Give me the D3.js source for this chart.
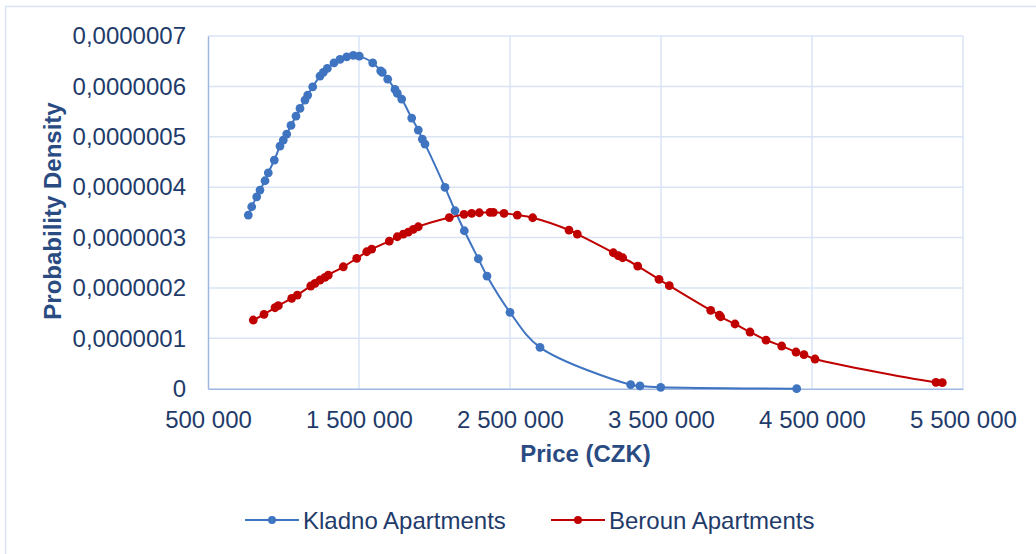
<!DOCTYPE html>
<html>
<head>
<meta charset="utf-8">
<script src="https://cdn.jsdelivr.net/npm/d3@7"></script>
<style>
  html, body { margin: 0; padding: 0; background: #ffffff; }
  svg { display: block; }
  text { font-family: "Liberation Sans", Arial, sans-serif; }
</style>
</head>
<body>
<svg id="chart" width="1036" height="554"></svg>
<script>
// ---- Data ----
const kladnoPrice = [767000, 789400, 822500, 844400, 877500, 899300, 939100, 976800, 998700, 1021200,
  1049700, 1082800, 1109300, 1142400, 1160300, 1193400, 1241700, 1263600, 1290100, 1334400,
  1374200, 1418500, 1462300, 1502000, 1590700, 1643700, 1654300, 1690100, 1738400, 1753600,
  1782800, 1849000, 1892700, 1919200, 1937100, 2069500, 2135800, 2197400, 2290100, 2347700,
  2500000, 2698700, 3299300, 3360900, 3498000, 4398700];
const kladnoDensity = [3.446e-7, 3.611e-7, 3.809e-7, 3.942e-7, 4.127e-7, 4.285e-7, 4.537e-7, 4.815e-7, 4.934e-7, 5.053e-7,
  5.226e-7, 5.410e-7, 5.563e-7, 5.728e-7, 5.827e-7, 5.992e-7, 6.204e-7, 6.277e-7, 6.357e-7, 6.468e-7,
  6.535e-7, 6.587e-7, 6.615e-7, 6.601e-7, 6.468e-7, 6.309e-7, 6.277e-7, 6.144e-7, 5.940e-7, 5.861e-7,
  5.748e-7, 5.371e-7, 5.133e-7, 4.954e-7, 4.855e-7, 3.996e-7, 3.532e-7, 3.135e-7, 2.579e-7, 2.236e-7,
  1.516e-7, 0.821e-7, 0.079e-7, 0.054e-7, 0.028e-7, 0.0001e-7];

const berounPrice = [800000, 870900, 943700, 965600, 1054300, 1091400, 1180100, 1208600, 1241700, 1274800,
  1296700, 1396000, 1484800, 1551000, 1584100, 1700700, 1753600, 1793400, 1826500, 1859600,
  1892700, 2098000, 2195400, 2246400, 2296700, 2367500, 2389400, 2460300, 2548300, 2650300,
  2890700, 2945700, 3184100, 3217200, 3246400, 3345700, 3486800, 3555000, 3829100, 3886100,
  3895400, 3990100, 4089400, 4195400, 4299300, 4394000, 4447000, 4519900, 5321200, 5362900];
const berounDensity = [1.363e-7, 1.476e-7, 1.607e-7, 1.647e-7, 1.794e-7, 1.859e-7, 2.038e-7, 2.091e-7, 2.157e-7, 2.210e-7,
  2.256e-7, 2.420e-7, 2.587e-7, 2.718e-7, 2.772e-7, 2.930e-7, 3.016e-7, 3.069e-7, 3.109e-7, 3.163e-7,
  3.214e-7, 3.397e-7, 3.460e-7, 3.480e-7, 3.492e-7, 3.500e-7, 3.500e-7, 3.480e-7, 3.446e-7, 3.393e-7,
  3.149e-7, 3.069e-7, 2.698e-7, 2.639e-7, 2.599e-7, 2.434e-7, 2.171e-7, 2.044e-7, 1.555e-7, 1.462e-7,
  1.428e-7, 1.284e-7, 1.125e-7, 0.966e-7, 0.847e-7, 0.728e-7, 0.675e-7, 0.589e-7, 0.127e-7, 0.119e-7];

const seriesNames = ["Kladno Apartments", "Beroun Apartments"];
const xTickValues = [500000, 1500000, 2500000, 3500000, 4500000, 5500000];
const yTickValues = [0, 1e-7, 2e-7, 3e-7, 4e-7, 5e-7, 6e-7, 7e-7];
const xTitle = "Price (CZK)";
const yTitle = "Probability Density";

// ---- Layout / style ----
const colors = ["#3F74C1", "#C00000"];
const textColor = "#1F3B6A";
const titleColor = "#2A4B82";
const gridColor = "#D9E4F4";
const axisColor = "#9DB7E0";
const fontSize = "24px";

const svg = d3.select("#chart");

// outer chart border
svg.append("rect")
  .attr("x", 5.5).attr("y", 6.5).attr("width", 1040).attr("height", 560)
  .attr("fill", "none").attr("stroke", gridColor).attr("stroke-width", 1.5);

const x = d3.scaleLinear().domain([500000, 5500000]).range([208, 963]);
const y = d3.scaleLinear().domain([0, 7e-7]).range([388.7, 36]);

// gridlines
const grid = svg.append("g");
grid.selectAll("line.h").data(yTickValues.slice(1)).join("line")
  .attr("x1", x.range()[0]).attr("x2", x.range()[1])
  .attr("y1", d => y(d)).attr("y2", d => y(d))
  .attr("stroke", gridColor).attr("stroke-width", 1.5);
grid.selectAll("line.v").data(xTickValues.slice(1)).join("line")
  .attr("y1", y.range()[0]).attr("y2", y.range()[1])
  .attr("x1", d => x(d)).attr("x2", d => x(d))
  .attr("stroke", gridColor).attr("stroke-width", 1.5);

// axes
const fmtX = d => d3.format(",")(d).replace(/,/g, " ");
const fmtY = d => d === 0 ? "0" : d3.format(".7f")(d).replace(".", ",");

const xAxis = svg.append("g")
  .attr("transform", `translate(0,${y.range()[0]})`)
  .call(d3.axisBottom(x).tickValues(xTickValues).tickFormat(fmtX).tickSize(0).tickPadding(22));
xAxis.select(".domain").attr("stroke", axisColor).attr("stroke-width", 1.5);
xAxis.selectAll("text").attr("fill", textColor).attr("font-size", fontSize);

const yAxis = svg.append("g")
  .attr("transform", `translate(${x.range()[0]},0)`)
  .call(d3.axisLeft(y).tickValues(yTickValues).tickFormat(fmtY).tickSize(0).tickPadding(22));
yAxis.select(".domain").attr("stroke", axisColor).attr("stroke-width", 1.5);
yAxis.selectAll("text").attr("fill", textColor).attr("font-size", fontSize);

// axis titles
svg.append("text")
  .attr("x", 585.5).attr("y", 462)
  .attr("text-anchor", "middle")
  .attr("font-size", fontSize).attr("font-weight", "bold").attr("fill", titleColor)
  .text(xTitle);
svg.append("text")
  .attr("transform", "translate(61,211) rotate(-90)")
  .attr("text-anchor", "middle")
  .attr("font-size", fontSize).attr("font-weight", "bold").attr("fill", titleColor)
  .text(yTitle);

// series
const series = [
  { name: seriesNames[0], xs: kladnoPrice, ys: kladnoDensity, color: colors[0] },
  { name: seriesNames[1], xs: berounPrice, ys: berounDensity, color: colors[1] }
];
const line = d3.line().x(d => x(d[0])).y(d => y(d[1])).curve(d3.curveCatmullRom.alpha(0.5));

series.forEach(s => {
  const pts = s.xs.map((v, i) => [v, s.ys[i]]);
  const g = svg.append("g");
  g.append("path").attr("d", line(pts))
    .attr("fill", "none").attr("stroke", s.color).attr("stroke-width", 2);
  g.selectAll("circle").data(pts).join("circle")
    .attr("cx", d => x(d[0])).attr("cy", d => y(d[1])).attr("r", 4.4)
    .attr("fill", s.color);
});

// legend
const legendItems = [
  { name: seriesNames[0], color: colors[0], x0: 245 },
  { name: seriesNames[1], color: colors[1], x0: 551 }
];
const lg = svg.append("g");
legendItems.forEach(it => {
  lg.append("line").attr("x1", it.x0).attr("x2", it.x0 + 54)
    .attr("y1", 520).attr("y2", 520)
    .attr("stroke", it.color).attr("stroke-width", 2);
  lg.append("circle").attr("cx", it.x0 + 27).attr("cy", 520).attr("r", 4).attr("fill", it.color);
  lg.append("text").attr("x", it.x0 + 58).attr("y", 528.5)
    .attr("font-size", fontSize).attr("fill", textColor).text(it.name);
});
</script>
</body>
</html>
